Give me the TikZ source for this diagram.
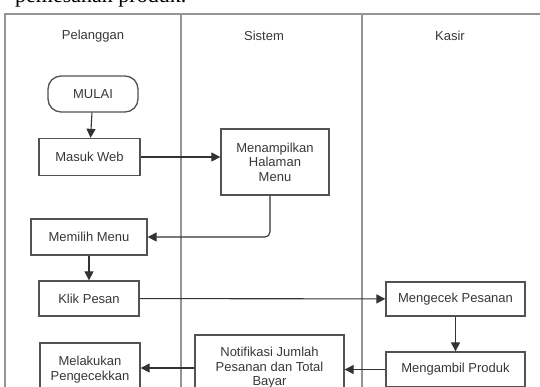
\documentclass[tikz,border=0pt]{standalone}
\usepackage{fontspec}
\setmainfont{Liberation Sans}
\newfontfamily\capfont{Liberation Serif}
\usepackage{tikz}
\usetikzlibrary{arrows.meta}
\usetikzlibrary{positioning}

\begin{document}
\begin{tikzpicture}[
    x=1pt, y=-1pt,
    font=\fontsize{13}{14.5}\selectfont,
    % swimlane lines and flow boxes
    lane/.style={draw=black!42, line width=1.4pt},
    proc/.style={rectangle, draw=black!68, line width=1.3pt, fill=white, text=black!78,
                 align=center, inner sep=0pt},
    term/.style={proc, rounded corners=13pt},
    flow/.style={draw=black!80, line width=1.1pt, -{Triangle[length=9pt,width=9pt]}},
]
\useasboundingbox (0,0) rectangle (540,386);
\clip (0,0) rectangle (540,386);

% =========================================================
% caption remainder and swimlanes
% =========================================================
\node[anchor=base west, inner sep=0pt, font=\capfont\fontsize{22}{24}\selectfont] (cap) at (15,2) {pemesanan produk.};

\draw[lane] (548,14) -- (5,14) -- (5,400);
\draw[lane] (181,14) -- (181,400);
\draw[lane] (362,14) -- (362,400);

\node[text=black!78] (hPel) at (93,36)  {Pelanggan};
\node[text=black!78] (hSis) at (264,36) {Sistem};
\node[text=black!78] (hKas) at (450,36) {Kasir};

% =========================================================
% Pelanggan
% =========================================================
\node[term, minimum width=90pt,  minimum height=36pt] (mulai)    at (93,94)     {MULAI};
\node[proc, minimum width=101pt, minimum height=37pt] (masuk)    at (89.5,157)  {Masuk Web};
\node[proc, minimum width=116pt, minimum height=36pt] (memilih)  at (89,237)    {Memilih Menu};
\node[proc, minimum width=100pt, minimum height=35pt] (klik)     at (89,298.5)  {Klik Pesan};
\node[proc, minimum width=100pt, minimum height=53pt] (cekUser)  at (90,369.5)  {Melakukan\\Pengecekkan};

% =========================================================
% Sistem
% =========================================================
\node[proc, minimum width=108pt, minimum height=66pt] (tampil)   at (275,162)   {Menampilkan\\Halaman\\Menu};
\node[proc, minimum width=149pt, minimum height=66pt] (notif)    at (269.5,368) {Notifikasi Jumlah\\Pesanan dan Total\\Bayar};

% =========================================================
% Kasir
% =========================================================
\node[proc, minimum width=139pt, minimum height=34pt] (cekPesan) at (455.5,299)   {Mengecek Pesanan};
\node[proc, minimum width=139pt, minimum height=35pt] (ambil)    at (455.5,369.5) {Mengambil Produk};

% flow
\draw[flow] (mulai) -- (masuk);
\draw[flow] (masuk.east) -- (tampil.west |- masuk.east);
\draw[flow, rounded corners=5pt] ([xshift=-5pt]tampil.south) |- (memilih.east);
\draw[flow] (memilih) -- (klik);
\draw[flow] (klik) -- (cekPesan);
\draw[flow] (cekPesan) -- (ambil);
\draw[flow] (ambil.west) -- (notif.east |- ambil.west);
\draw[flow] (notif.west) -- (cekUser.east |- notif.west);

\end{tikzpicture}
\end{document}
